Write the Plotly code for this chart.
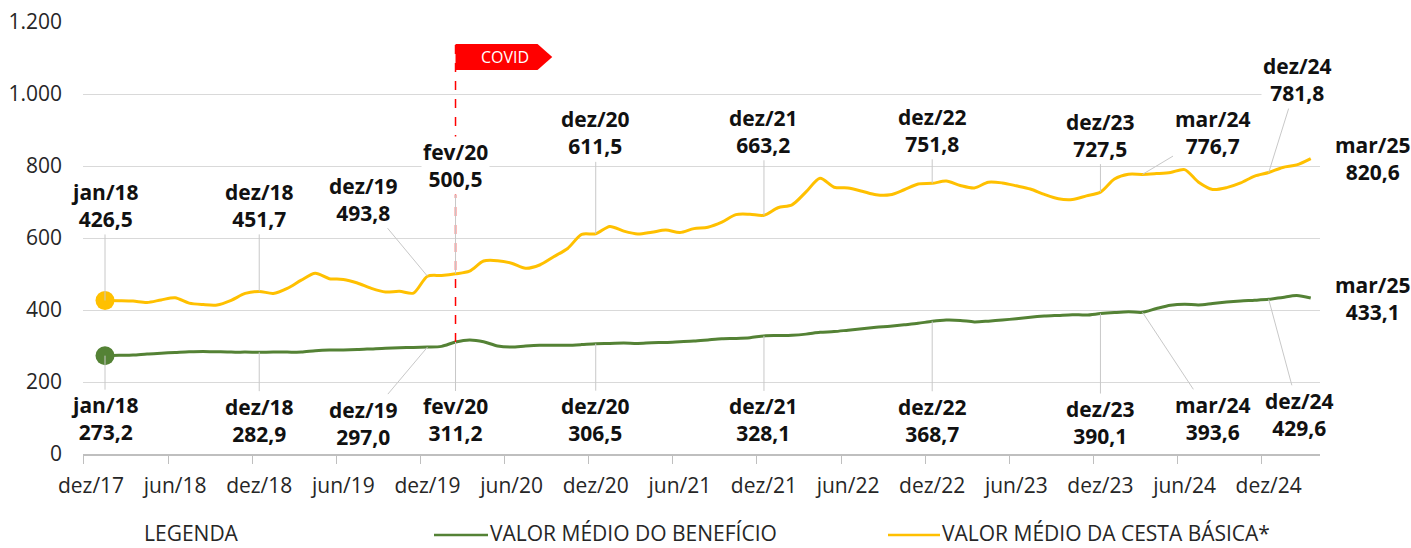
import plotly.graph_objects as go

NOMES_MESES = ["jan", "fev", "mar", "abr", "mai", "jun", "jul", "ago", "set", "out", "nov", "dez"]

# jan/18 .. mar/25
meses = [f"{NOMES_MESES[m % 12]}/{18 + m // 12}" for m in range(87)]

cesta = [
    426.5, 426, 425, 421, 428, 434, 419, 415, 414, 427, 446, 451.7,
    446, 460, 483, 502, 487, 485, 475, 460, 450, 452, 447, 493.8,
    496, 500.5, 508, 536, 537, 530, 516, 525, 548, 571, 610, 611.5,
    632, 619, 611, 616, 622, 615, 626, 630, 644, 665, 666, 663.2,
    684, 692, 728, 766, 741, 739, 730, 720, 720, 734, 750, 751.8,
    758, 746, 739, 755, 753, 745, 736, 721, 709, 707, 717, 727.5,
    764, 777, 776.7, 779, 782, 790, 755, 735, 740, 753, 772, 781.8,
    796, 803, 820.6,
]

beneficio = [
    273.2, 274, 275, 278, 280, 282, 284, 285, 284, 283, 283, 282.9,
    283, 283, 283, 287, 289, 289, 290, 292, 294, 295, 296, 297.0,
    299, 311.2, 317, 312, 300, 297, 300, 302, 302, 302, 304, 306.5,
    307, 308, 307, 309, 310, 312, 314, 317, 320, 321, 323, 328.1,
    329, 330, 333, 338, 340, 344, 348, 352, 355, 359, 363, 368.7,
    372, 371, 367, 369, 372, 376, 380, 383, 385, 387, 386, 390.1,
    393, 395, 393.6, 404, 413, 416, 414, 418, 422, 425, 427, 429.6,
    435, 440, 433.1,
]

tick_labels = ["dez/17", "jun/18", "dez/18", "jun/19", "dez/19", "jun/20", "dez/20", "jun/21",
               "dez/21", "jun/22", "dez/22", "jun/23", "dez/23", "jun/24", "dez/24"]

destaques = ["jan/18", "dez/18", "dez/19", "fev/20", "dez/20", "dez/21",
             "dez/22", "dez/23", "mar/24", "dez/24", "mar/25"]

# pixel offsets of each label from its point (ax, ay)
offsets_cesta = [(0, -95), (0, -86), (-64, -77), (0, -108), (0, -101), (0, -84),
                 (0, -53), (0, -57), (70, -42), (29, -93), (62, 0)]
offsets_beneficio = [(0, 63), (0, 68), (-64, 76), (0, 78), (0, 76), (0, 84),
                     (0, 99), (0, 109), (70, 106), (31, 115), (62, 0)]

VERDE = "#548235"
AMARELO = "#FFC000"
TEXTO = "#262626"
CINZA = "#d9d9d9"
FONTE = "Open Sans"

x = list(range(1, len(meses) + 1))  # dez/17 = 0
covid = x[meses.index("fev/20")]

W, H = 1411, 548
L, T = 83, 22
PLOT_W, PLOT_H = 1237, 432
R, B = W - L - PLOT_W, H - T - PLOT_H


def px_to_paper(px, py):
    return (px - L) / PLOT_W, (T + PLOT_H - py) / PLOT_H


fig = go.Figure()

for serie, cor, nome in [(beneficio, VERDE, "VALOR MÉDIO DO BENEFÍCIO"),
                         (cesta, AMARELO, "VALOR MÉDIO DA CESTA BÁSICA*")]:
    fig.add_trace(go.Scatter(
        x=x, y=serie, mode="lines", name=nome,
        line=dict(color=cor, width=3, shape="spline", smoothing=0.8),
        showlegend=False,
    ))
    fig.add_trace(go.Scatter(
        x=x[:1], y=serie[:1], mode="markers",
        marker=dict(color=cor, size=19), showlegend=False, hoverinfo="skip",
    ))


def add_labels(serie, offsets):
    for mes, (ax, ay) in zip(destaques, offsets):
        i = meses.index(mes)
        texto = f"<b>{mes}<br>{serie[i]:.1f}</b>".replace(".", ",")
        fig.add_annotation(
            x=x[i], y=serie[i], text=texto, ax=ax, ay=ay,
            showarrow=True, arrowhead=0, arrowwidth=1, standoff=0,
            arrowcolor="#c8c8c8" if ay != 0 else "rgba(0,0,0,0)",
            font=dict(family=FONTE, size=21, color="#111111"),
            bgcolor="white", borderpad=1,
        )


# COVID marker
fig.add_shape(type="line", x0=covid, x1=covid, y0=beneficio[meses.index("fev/20")], y1=1139,
              line=dict(color="#ff0000", width=1.5, dash="dash"))
fig.add_shape(type="path",
              path=f"M {covid},1067 L {covid + 5.85},1067 L {covid + 6.9},1103 "
                   f"L {covid + 5.85},1139 L {covid},1139 Z",
              fillcolor="#ff0000", line=dict(width=0))
fig.add_annotation(x=covid + 3.5, y=1103, text="COVID", showarrow=False,
                   font=dict(family=FONTE, size=16, color="white"))

add_labels(cesta, offsets_cesta)
add_labels(beneficio, offsets_beneficio)

# legend drawn by hand
ly = 533
xp, yp = px_to_paper(143, ly)
fig.add_annotation(xref="paper", yref="paper", x=xp, y=yp, text="LEGENDA", showarrow=False,
                   xanchor="left", yanchor="middle", borderpad=0,
                   font=dict(family=FONTE, size=21, color=TEXTO))
for x0, x1, cor, nome in [(434, 488, VERDE, "VALOR MÉDIO DO BENEFÍCIO"),
                          (888, 940, AMARELO, "VALOR MÉDIO DA CESTA BÁSICA*")]:
    a, yp = px_to_paper(x0, ly + 2)
    b, _ = px_to_paper(x1, ly + 2)
    fig.add_shape(type="line", xref="paper", yref="paper", x0=a, x1=b, y0=yp, y1=yp,
                  line=dict(color=cor, width=2.5))
    t, yt = px_to_paper(x1 + 1, ly)
    fig.add_annotation(xref="paper", yref="paper", x=t, y=yt, text=nome, showarrow=False,
                       xanchor="left", yanchor="middle", borderpad=0,
                       font=dict(family=FONTE, size=21, color=TEXTO))

fig.update_layout(
    width=W, height=H, autosize=False,
    margin=dict(l=L, r=R, t=T, b=B),
    paper_bgcolor="white", plot_bgcolor="white",
    separators=",.",
    showlegend=False,
    font=dict(family=FONTE, size=19, color=TEXTO),
    xaxis=dict(
        range=[-0.57, 87.66], showgrid=False, zeroline=False, automargin=False,
        tickmode="array", tickvals=list(range(0, 85, 6)), ticktext=tick_labels,
        ticks="", ticklabelstandoff=12,
        minor=dict(tickmode="array", tickvals=[v - 0.5 for v in range(0, 85, 6)],
                   ticks="outside", ticklen=8, tickcolor="#bfbfbf", tickwidth=1),
        showline=True, linecolor="#bfbfbf", linewidth=1.5,
        tickfont=dict(family=FONTE, size=21, color=TEXTO),
    ),
    yaxis=dict(
        range=[0, 1200], tickvals=list(range(0, 1201, 200)), tickformat=",d",
        showgrid=True, gridcolor=CINZA, gridwidth=1, zeroline=False, automargin=False,
        ticks="", ticklabelstandoff=20,
        tickfont=dict(family=FONTE, size=21, color=TEXTO),
    ),
)

# drop the default 8px body margin so the figure fills the window
fig.write_html("out.html", config={"displayModeBar": False},
               post_script="document.body.style.margin = '0';")
